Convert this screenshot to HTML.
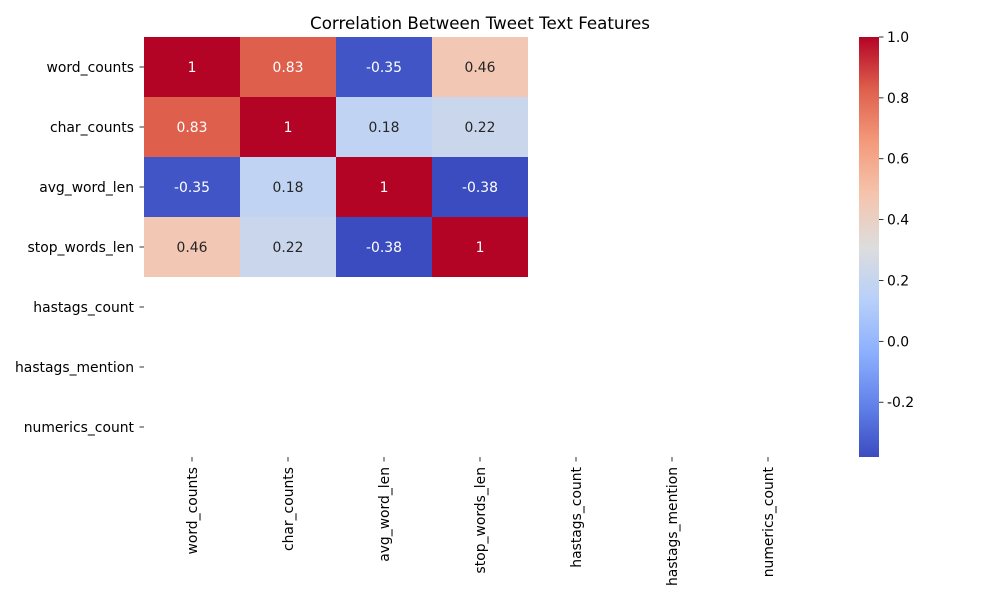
<!DOCTYPE html>
<html><head><meta charset="utf-8"><style>body{margin:0;background:#fff}svg text{font-family:"DejaVu Sans","Liberation Sans",sans-serif}</style></head>
<body>
<svg id="chart" width="1000" height="600" xmlns="http://www.w3.org/2000/svg">
<defs><linearGradient id="cw" x1="0" y1="1" x2="0" y2="0"></linearGradient></defs>
<text x="480" y="29" font-size="16.7" text-anchor="middle">Correlation Between Tweet Text Features</text>
<g id="cells"></g><g id="ylab"></g><g id="xlab"></g><g id="cbar"></g>
</svg>
<script>
const categories=["word_counts","char_counts","avg_word_len","stop_words_len","hastags_count","hastags_mention","numerics_count"];
const row0=[1,0.83,-0.35,0.46,null,null,null];
const row1=[0.83,1,0.18,0.22,null,null,null];
const row2=[-0.35,0.18,1,-0.38,null,null,null];
const row3=[0.46,0.22,-0.38,1,null,null,null];
const row4=[null,null,null,null,null,null,null];
const row5=[null,null,null,null,null,null,null];
const row6=[null,null,null,null,null,null,null];
const cbTicks=[-0.2,0,0.2,0.4,0.6,0.8,1.0];
const rows=[row0,row1,row2,row3,row4,row5,row6];
const NS="http://www.w3.org/2000/svg";
const X0=144,Y0=37,CW=96,CH=60;
const vals=rows.flat().filter(v=>v!==null);
const vmin=Math.min(...vals),vmax=Math.max(...vals);
const anchors=[[59,76,192],[98,130,234],[141,176,254],[184,208,249],[221,221,221],[245,196,173],[244,154,123],[222,96,77],[180,4,38]];
function cmap(v){let t=(v-vmin)/(vmax-vmin);t=Math.max(0,Math.min(1,t));const p=t*8,i=Math.min(7,Math.floor(p)),f=p-i;const a=anchors[i],b=anchors[i+1];return a.map((c,k)=>Math.round(c+(b[k]-c)*f));}
function mk(tag,attrs,parent){const e=document.createElementNS(NS,tag);for(const k in attrs)e.setAttribute(k,attrs[k]);parent.appendChild(e);return e;}
const cells=document.getElementById('cells');
rows.forEach((r,i)=>r.forEach((v,j)=>{if(v===null)return;const c=cmap(v);
 const rc=mk('rect',{x:X0+j*CW,y:Y0+i*CH,width:CW,height:CH,fill:`rgb(${c})`},cells);
 
 
 const lum=(0.299*c[0]+0.587*c[1]+0.114*c[2])/255;
 const t=mk('text',{x:X0+j*CW+CW/2,y:Y0+i*CH+CH/2+5,'font-size':13.9,'text-anchor':'middle',fill:lum>0.55?'#262626':'#fff'},cells);
 t.textContent=String(v);
 
 
}));
const yl=document.getElementById('ylab'),xl=document.getElementById('xlab');
categories.forEach((c,i)=>{const y=Y0+i*CH+CH/2;
 mk('line',{x1:X0-4.5,x2:X0,y1:y,y2:y,stroke:'#000','stroke-width':0.8},yl);
 const t=mk('text',{x:X0-10,y:y+5,'font-size':13.9,'text-anchor':'end'},yl);t.textContent=c;
 
 
 const x=X0+i*CW+CW/2,yb=Y0+7*CH;
 mk('line',{x1:x,x2:x,y1:yb,y2:yb+4.5,stroke:'#000','stroke-width':0.8},xl);
 const u=mk('text',{x:0,y:0,'font-size':13.9,'text-anchor':'end',transform:`translate(${x+5},${yb+10}) rotate(-90)`},xl);u.textContent=c;
 
 
});
const g=document.getElementById('cw');
for(let k=0;k<=8;k++)mk('stop',{offset:k/8,'stop-color':`rgb(${anchors[k]})`},g);
const cb=document.getElementById('cbar');const CX=859,CWB=20,CY0=37,CY1=457;
const bar=mk('rect',{x:CX,y:CY0,width:CWB,height:CY1-CY0,fill:'url(#cw)'},cb);


function cy(v){return CY1-(v-vmin)/(vmax-vmin)*(CY1-CY0);}
cbTicks.forEach(v=>{const y=cy(v);
 mk('line',{x1:CX+CWB,x2:CX+CWB+4.5,y1:y,y2:y,stroke:'#000','stroke-width':0.8},cb);
 const t=mk('text',{x:CX+CWB+8,y:y+5,'font-size':13.9},cb);t.textContent=v.toFixed(1);
 
 
});
</script>
</body></html>
